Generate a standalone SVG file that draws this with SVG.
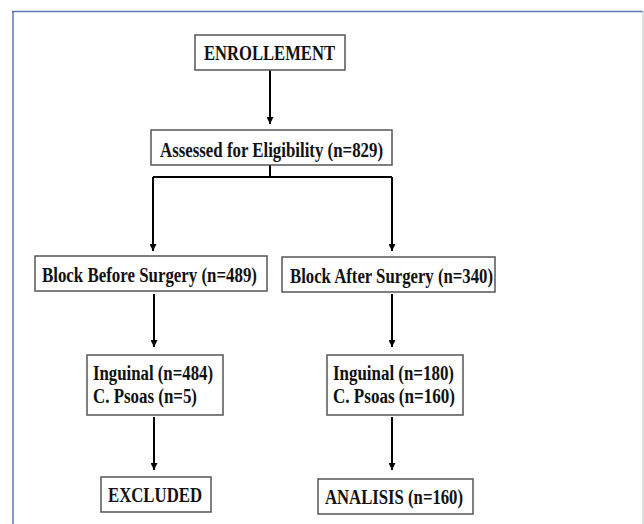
<svg xmlns="http://www.w3.org/2000/svg" width="644" height="524" viewBox="0 0 644 524">
<defs>
<marker id="ah" viewBox="0 0 10 10" refX="10" refY="5" markerWidth="4" markerHeight="3.5" orient="auto" markerUnits="strokeWidth">
<path d="M0,0 L10,5 L0,10 z" fill="#000"/>
</marker>
</defs>
<style>
.box{fill:#fff;stroke:#555;stroke-width:1.5}
.t{font-family:"Liberation Serif","Times New Roman",serif;font-weight:bold;font-size:20.5px;fill:#111}
.ln{fill:none;stroke:#000;stroke-width:2}
.ar{fill:none;stroke:#000;stroke-width:2;marker-end:url(#ah)}
</style>
<rect x="0" y="0" width="644" height="524" fill="#fff"/>
<line x1="12" y1="11.5" x2="643" y2="11.5" stroke="#5d79ad" stroke-width="1.5"/>
<line x1="13" y1="11" x2="13" y2="524" stroke="#5d79ad" stroke-width="1.5"/>
<line x1="643" y1="11" x2="643" y2="524" stroke="#c3cbd9" stroke-width="1.2"/>
<g id="connectors">
<line class="ar" x1="270" y1="70" x2="270" y2="124"/>
<polyline class="ln" points="270,165 270,177"/>
<line class="ln" x1="153" y1="177" x2="392" y2="177"/>
<line class="ar" x1="153" y1="177" x2="153" y2="251"/>
<line class="ar" x1="392" y1="177" x2="392" y2="251"/>
<line class="ar" x1="154" y1="294" x2="154" y2="347"/>
<line class="ar" x1="392" y1="294" x2="392" y2="347"/>
<line class="ar" x1="154" y1="417" x2="154" y2="470"/>
<line class="ar" x1="392" y1="417" x2="392" y2="470"/>
</g>
<g id="enrollement">
<rect class="box" x="195" y="35" width="150" height="35"/>
<text class="t" x="204" y="60" textLength="131" lengthAdjust="spacingAndGlyphs">ENROLLEMENT</text>
</g>
<g id="assessed">
<rect class="box" x="151" y="130" width="241" height="35"/>
<text class="t" x="160" y="157" textLength="223" lengthAdjust="spacingAndGlyphs">Assessed for Eligibility (n=829)</text>
</g>
<g id="block-before">
<rect class="box" x="35" y="256" width="232" height="35"/>
<text class="t" x="42" y="282" textLength="215" lengthAdjust="spacingAndGlyphs">Block Before Surgery (n=489)</text>
</g>
<g id="block-after">
<rect class="box" x="282" y="257" width="213" height="35"/>
<text class="t" x="290" y="283" textLength="203" lengthAdjust="spacingAndGlyphs">Block After Surgery (n=340)</text>
</g>
<g id="inguinal-left">
<rect class="box" x="87" y="355" width="136" height="60"/>
<text class="t" x="93" y="380" textLength="120" lengthAdjust="spacingAndGlyphs">Inguinal (n=484)</text>
<text class="t" x="93" y="403" textLength="104" lengthAdjust="spacingAndGlyphs">C. Psoas (n=5)</text>
</g>
<g id="inguinal-right">
<rect class="box" x="327" y="355" width="136" height="60"/>
<text class="t" x="333" y="380" textLength="121" lengthAdjust="spacingAndGlyphs">Inguinal (n=180)</text>
<text class="t" x="333" y="403" textLength="122" lengthAdjust="spacingAndGlyphs">C. Psoas (n=160)</text>
</g>
<g id="excluded">
<rect class="box" x="101" y="477" width="110" height="35"/>
<text class="t" x="108" y="502" textLength="94" lengthAdjust="spacingAndGlyphs">EXCLUDED</text>
</g>
<g id="analisis">
<rect class="box" x="318" y="479" width="155" height="35"/>
<text class="t" x="325" y="504" textLength="138" lengthAdjust="spacingAndGlyphs">ANALISIS (n=160)</text>
</g>
</svg>
